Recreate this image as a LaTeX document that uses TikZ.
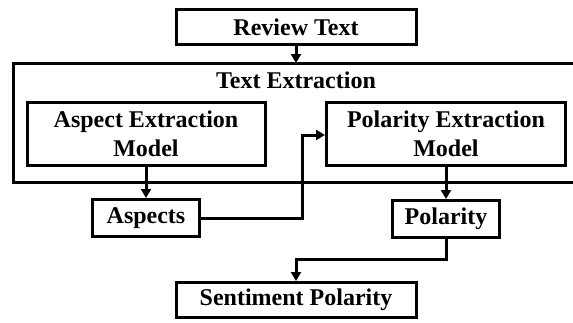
\documentclass[tikz,border=0pt]{standalone}
\usepackage{fontspec}
\setmainfont{Liberation Serif}
\usetikzlibrary{arrows.meta}
\begin{document}
\begin{tikzpicture}[x=1pt,y=-1pt,
  box/.style={draw, line width=3pt, rectangle, align=center, inner sep=0pt,
    font=\bfseries\fontsize{24}{29}\selectfont},
  label/.style={inner sep=0pt, font=\bfseries\fontsize{24}{29}\selectfont},
  conn/.style={line width=3pt, -{Triangle[length=9pt,width=10pt]}}]
\useasboundingbox (0,0) rectangle (573,322);
\clip (0,0) rectangle (573,322);

% outer stage frame (runs past the right edge)
\draw[line width=3pt] (610,63) -- (13,63) -- (13,182) -- (610,182);
\node[label] (stage) at (296,80) {Text Extraction};
\coordinate (stagetop) at (296,63);

% boxes
\node[box, minimum width=240pt, minimum height=35pt] (review) at (296,27) {Review Text};
\node[box, minimum width=238pt, minimum height=63pt] (aem) at (146,134) {Aspect Extraction\\Model};
\node[box, minimum width=239pt, minimum height=63pt] (pem) at (446,134) {Polarity Extraction\\Model};
\node[box, minimum width=107pt, minimum height=37pt] (aspects) at (146,218) {Aspects};
\node[box, minimum width=107pt, minimum height=37pt] (polarity) at (446,219) {Polarity};
\node[box, minimum width=240pt, minimum height=35pt] (sentiment) at (296,300) {Sentiment Polarity};

% connectors
\coordinate (bend) at (302,135);
\coordinate (jog) at (296,259);
\draw[conn] (review.south) -- (stagetop);
\draw[conn] (aem.south) -- (aspects.north);
\draw[conn] (aspects.east) -| (bend) -- (bend -| pem.west);
\draw[conn] (pem.south) -- (polarity.north);
\draw[conn] (polarity.south) |- (jog) -- (sentiment.north);
\end{tikzpicture}
\end{document}
